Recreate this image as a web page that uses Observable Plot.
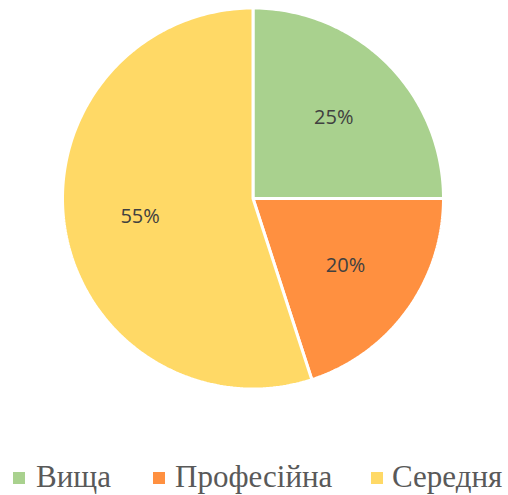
<!DOCTYPE html>
<html>
<head>
<meta charset="utf-8">
<script src="https://cdn.jsdelivr.net/npm/d3@7"></script>
<script src="https://cdn.jsdelivr.net/npm/@observablehq/plot@0.6"></script>
<style>
  html, body { margin: 0; padding: 0; background: #fff; overflow: hidden; }
  #chart { width: 508px; position: relative; height: 495px; }
  .legend { position: absolute; left: 0; top: 400px; width: 508px; height: 95px; font-family: "Liberation Serif", "Times New Roman", serif; font-size: 31px; color: #595959; }
  .legend .sw { position: absolute; width: 12px; height: 12px; top: 72px; }
  .legend .tx { position: absolute; top: 77px; line-height: 0; white-space: nowrap; }
</style>
</head>
<body>
<div id="chart"></div>
<script>
const categories = ["Вища", "Професійна", "Середня"];
const values = [25, 20, 55];
const labels = ["25%", "20%", "55%"];
const colors = ["#A9D18E", "#FF9040", "#FFD966"];

const R = 190.5;
const total = d3.sum(values);
let acc = 0;
const polys = [];
const labelRows = [];
categories.forEach((c, i) => {
  const a0 = acc / total * 2 * Math.PI;
  acc += values[i];
  const a1 = acc / total * 2 * Math.PI;
  polys.push({cat: c, x: 0, y: 0});
  const n = Math.max(4, Math.ceil((a1 - a0) / (Math.PI / 180)));
  for (let k = 0; k <= n; k++) {
    const a = a0 + (a1 - a0) * k / n;
    polys.push({cat: c, x: R * Math.sin(a), y: R * Math.cos(a)});
  }
  polys.push({cat: c, x: 0, y: 0});
  const am = (a0 + a1) / 2;
  labelRows.push({label: labels[i], x: 0.6 * R * Math.sin(am), y: 0.6 * R * Math.cos(am)});
});

const plot = Plot.plot({
  width: 508,
  height: 400,
  margin: 0,
  x: {domain: [-252.5, 255.5], range: [0, 508], axis: null},
  y: {domain: [198, -202], range: [0, 400], axis: null},
  color: {domain: categories, range: colors},
  marks: [
    Plot.line(polys, {x: "x", y: "y", z: "cat", fill: "cat", stroke: "#fff", strokeWidth: 3, curve: "linear", strokeLinejoin: "miter"}),
    Plot.text(labelRows, {x: "x", y: "y", text: "label", fontSize: 20, fill: "#404040", fontFamily: "Open Sans, Liberation Sans, sans-serif"})
  ]
});
const chart = document.getElementById("chart");
chart.appendChild(plot);
plot.style.position = "absolute";
plot.style.left = "0px";
plot.style.top = "0px";

const leg = document.createElement("div");
leg.className = "legend";
const swX = [13, 153, 371];
const txX = [36, 175, 392];
categories.forEach((c, i) => {
  const sw = document.createElement("span");
  sw.className = "sw";
  sw.style.left = swX[i] + "px";
  sw.style.background = colors[i];
  leg.appendChild(sw);
  const t = document.createElement("span");
  t.className = "tx";
  t.style.left = txX[i] + "px";
  t.textContent = c;
  leg.appendChild(t);
});
chart.appendChild(leg);
</script>
</body>
</html>
